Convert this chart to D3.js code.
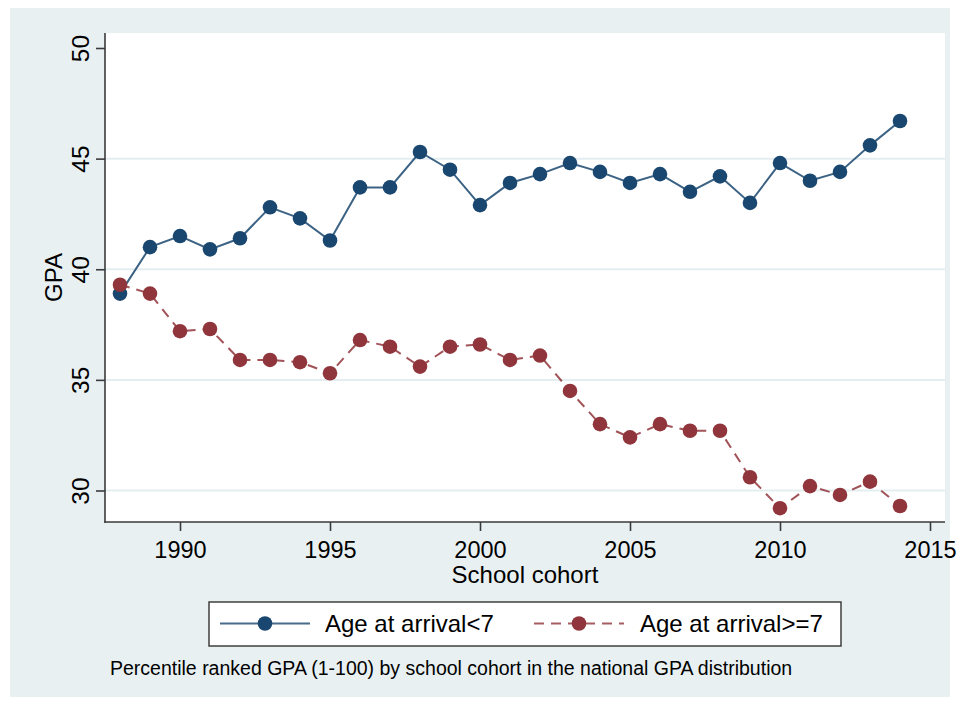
<!DOCTYPE html>
<html>
<head>
<meta charset="utf-8">
<script src="https://cdn.jsdelivr.net/npm/d3@7"></script>
<style>
  html, body { margin: 0; padding: 0; background: #ffffff; }
  svg { display: block; font-family: "Liberation Sans", Arial, sans-serif; }
</style>
</head>
<body>
<svg id="chart" width="959" height="705"></svg>
<script>
// School cohorts (x) and mean percentile GPA per group
const years = [1988, 1989, 1990, 1991, 1992, 1993, 1994, 1995, 1996, 1997,
               1998, 1999, 2000, 2001, 2002, 2003, 2004, 2005, 2006, 2007,
               2008, 2009, 2010, 2011, 2012, 2013, 2014];
const gpaArrivalUnder7 = [38.9, 41.0, 41.5, 40.9, 41.4, 42.8, 42.3, 41.3, 43.7, 43.7,
                          45.3, 44.5, 42.9, 43.9, 44.3, 44.8, 44.4, 43.9, 44.3, 43.5,
                          44.2, 43.0, 44.8, 44.0, 44.4, 45.6, 46.7];
const gpaArrival7Plus = [39.3, 38.9, 37.2, 37.3, 35.9, 35.9, 35.8, 35.3, 36.8, 36.5,
                         35.6, 36.5, 36.6, 35.9, 36.1, 34.5, 33.0, 32.4, 33.0, 32.7,
                         32.7, 30.6, 29.2, 30.2, 29.8, 30.4, 29.3];
const seriesNames = ["Age at arrival<7", "Age at arrival>=7"];
const xTicks = [1990, 1995, 2000, 2005, 2010, 2015];
const yTicks = [30, 35, 40, 45, 50];
const yGridTicks = [30, 35, 40, 45];
const xTitle = "School cohort";
const yTitle = "GPA";
const note = "Percentile ranked GPA (1-100) by school cohort in the national GPA distribution";

const navy = "#1a476f", maroon = "#90353b";
const bg = "#e9f0f2", grid = "#e4edf0", axisCol = "#3a3a3a";
const FONT = "Liberation Sans, Arial, sans-serif";

const svg = d3.select("#chart");

// Plot region bounds
const plotL = 105, plotR = 945, plotT = 33, plotB = 522;

const x = d3.scaleLinear().domain([1987.5, 2015.5]).range([plotL, plotR]);
const y = d3.scaleLinear().domain([30, 50]).range([490.5, 48]);

// Graph region and plot region
svg.append("rect").attr("x", 10).attr("y", 8).attr("width", 940).attr("height", 689).attr("fill", bg);
svg.append("rect").attr("x", plotL).attr("y", plotT).attr("width", plotR - plotL).attr("height", plotB - plotT).attr("fill", "#ffffff");

// Horizontal grid lines
svg.append("g").selectAll("line").data(yGridTicks).join("line")
  .attr("x1", plotL).attr("x2", plotR)
  .attr("y1", d => y(d)).attr("y2", d => y(d))
  .attr("stroke", grid).attr("stroke-width", 2);

// X axis
const xAxis = svg.append("g").attr("transform", `translate(0,${plotB})`)
  .call(d3.axisBottom(x).tickValues(xTicks).tickFormat(d3.format("d")).tickSize(9).tickSizeOuter(0).tickPadding(10.5));
xAxis.select(".domain").remove();
xAxis.selectAll(".tick line").attr("stroke", axisCol).attr("stroke-width", 1.6);
xAxis.selectAll(".tick text").attr("fill", "#000").attr("font-size", 23.5).attr("font-family", FONT);

// Y axis with vertical labels
const yAxis = svg.append("g").attr("transform", `translate(${plotL},0)`)
  .call(d3.axisLeft(y).tickValues(yTicks).tickSize(9).tickSizeOuter(0));
yAxis.select(".domain").remove();
yAxis.selectAll(".tick line").attr("stroke", axisCol).attr("stroke-width", 1.6);
yAxis.selectAll(".tick text")
  .attr("x", null).attr("dy", null)
  .attr("text-anchor", "middle")
  .attr("transform", "translate(-16,0) rotate(-90)")
  .attr("fill", "#000").attr("font-size", 24.5).attr("font-family", FONT);

// Axis lines along plot edges
svg.append("line").attr("x1", plotL).attr("x2", plotL).attr("y1", plotT).attr("y2", plotB + 0.8)
  .attr("stroke", axisCol).attr("stroke-width", 1.6);
svg.append("line").attr("x1", plotL - 0.8).attr("x2", plotR).attr("y1", plotB).attr("y2", plotB)
  .attr("stroke", axisCol).attr("stroke-width", 1.6);

// Axis titles
svg.append("text").attr("x", (plotL + plotR) / 2).attr("y", 583).attr("text-anchor", "middle")
  .attr("font-size", 24).attr("fill", "#000").text(xTitle);
svg.append("text").attr("transform", `translate(62,${(plotT + plotB) / 2}) rotate(-90)`).attr("text-anchor", "middle")
  .attr("font-size", 24).attr("fill", "#000").text(yTitle);

// Series
const series = [
  { name: seriesNames[0], values: gpaArrivalUnder7, color: navy, dash: null },
  { name: seriesNames[1], values: gpaArrival7Plus, color: maroon, dash: "10,7" }
];
const line = d3.line().x(d => x(d[0])).y(d => y(d[1]));

series.forEach(s => {
  const pts = years.map((yr, i) => [yr, s.values[i]]);
  const g = svg.append("g");
  g.append("path").datum(pts).attr("d", line)
    .attr("fill", "none").attr("stroke", s.color).attr("stroke-width", 2)
    .attr("stroke-opacity", 0.85)
    .attr("stroke-dasharray", s.dash);
  g.selectAll("circle").data(pts).join("circle")
    .attr("cx", d => x(d[0])).attr("cy", d => y(d[1])).attr("r", 7.3)
    .attr("fill", s.color);
});

// Legend
const lg = svg.append("g");
lg.append("rect").attr("x", 209).attr("y", 602).attr("width", 632).attr("height", 44)
  .attr("fill", "#ffffff").attr("stroke", "#333").attr("stroke-width", 1.4);
const legendItems = [
  { s: series[0], x0: 220, tx: 325 },
  { s: series[1], x0: 534, tx: 640 }
];
legendItems.forEach(it => {
  const cy = 623.5;
  lg.append("line").attr("x1", it.x0).attr("x2", it.x0 + 90).attr("y1", cy).attr("y2", cy)
    .attr("stroke", it.s.color).attr("stroke-width", 2).attr("stroke-opacity", 0.8)
    .attr("stroke-dasharray", it.s.dash);
  lg.append("circle").attr("cx", it.x0 + 45).attr("cy", cy).attr("r", 7.3).attr("fill", it.s.color);
  lg.append("text").attr("x", it.tx).attr("y", cy + 8.5).attr("font-size", 24).attr("fill", "#000").text(it.s.name);
});

// Note
svg.append("text").attr("x", 110).attr("y", 675).attr("font-size", 19.5).attr("fill", "#000").text(note);
</script>
</body>
</html>
